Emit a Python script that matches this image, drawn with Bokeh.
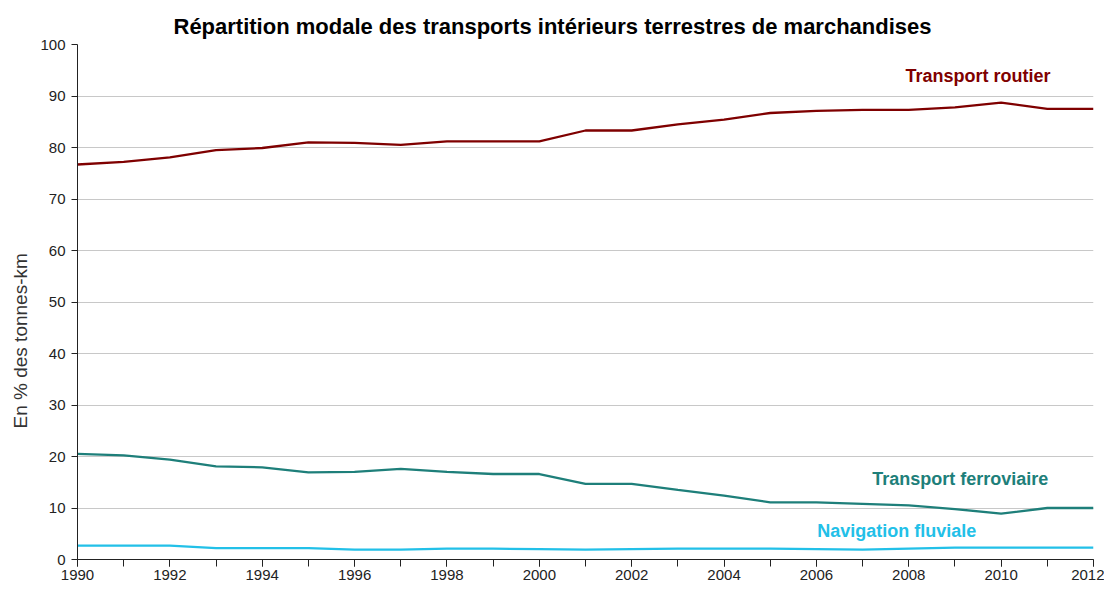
from bokeh.plotting import figure
from bokeh.models import SingleIntervalTicker, Range1d, Label, Title
from bokeh.embed import file_html
from bokeh.resources import INLINE

years = list(range(1990, 2013))
routier = [76.7, 77.2, 78.1, 79.5, 79.9, 81.0, 80.9, 80.5, 81.2, 81.2, 81.2, 83.3,
           83.3, 84.5, 85.4, 86.7, 87.1, 87.3, 87.3, 87.8, 88.7, 87.5, 87.5]
ferroviaire = [20.5, 20.2, 19.4, 18.1, 17.9, 16.9, 17.0, 17.6, 17.0, 16.6, 16.6, 14.7,
               14.7, 13.5, 12.4, 11.1, 11.1, 10.8, 10.5, 9.8, 8.9, 10.0, 10.0]
fluviale = [2.7, 2.7, 2.7, 2.2, 2.2, 2.2, 1.9, 1.9, 2.1, 2.1, 2.0, 1.9,
            2.0, 2.1, 2.1, 2.1, 2.0, 1.9, 2.1, 2.3, 2.3, 2.3, 2.3]

title_text = "Répartition modale des transports intérieurs terrestres de marchandises"
y_label = "En % des tonnes-km"
series_names = ["Transport routier", "Transport ferroviaire", "Navigation fluviale"]
colors = ["#7F0000", "#1E7F7A", "#22C0E8"]

p = figure(width=1104, height=586, output_backend="svg", toolbar_location=None,
           x_range=Range1d(1990, 2012), y_range=Range1d(0, 100),
           min_border_left=77, min_border_right=11, min_border_top=44, min_border_bottom=27)
p.outline_line_color = None
p.background_fill_color = "white"
p.border_fill_color = "white"

p.title.text = title_text
p.title.align = "left"
p.title.offset = 96
p.title.text_font = "Liberation Sans"
p.title.text_font_size = "22px"
p.title.text_font_style = "bold"
p.title.text_color = "black"
p.title.standoff = 11

for ys, c in zip([routier, ferroviaire, fluviale], colors):
    p.line(years, ys, line_color=c, line_width=2.3)

# x axis
p.xaxis.ticker = SingleIntervalTicker(interval=2, num_minor_ticks=2)
p.xaxis.major_tick_in = 0
p.xaxis.major_tick_out = 7
p.xaxis.minor_tick_in = 0
p.xaxis.minor_tick_out = 7
p.xaxis.axis_line_color = "#222222"
p.xaxis.major_tick_line_color = "#222222"
p.xaxis.minor_tick_line_color = "#222222"
p.xaxis.major_label_text_font = "Liberation Sans"
p.xaxis.major_label_text_font_size = "15px"
p.xaxis.major_label_text_color = "#222222"
p.xaxis.major_label_standoff = 3

# y axis
p.yaxis.ticker = SingleIntervalTicker(interval=10, num_minor_ticks=0)
p.yaxis.major_tick_in = 0
p.yaxis.major_tick_out = 6
p.yaxis.minor_tick_line_color = None
p.yaxis.axis_line_color = "#222222"
p.yaxis.major_tick_line_color = "#222222"
p.yaxis.major_label_text_font = "Liberation Sans"
p.yaxis.major_label_text_font_size = "15px"
p.yaxis.major_label_text_color = "#222222"
p.yaxis.major_label_standoff = 6

p.xgrid.grid_line_color = None
p.ygrid.grid_line_color = "#C8C8C8"
p.ygrid.grid_line_width = 1

# y-axis title, placed like the original (slightly below the frame centre)
ytitle = Title(text=y_label, align="left", offset=131, text_font="Liberation Sans",
               text_font_size="19px", text_font_style="normal", text_color="#333333",
               standoff=13)
p.add_layout(ytitle, "left")

label_pos = [(2007.93, 93.8), (2007.21, 15.7), (2006.02, 5.6)]
for name, c, (lx, ly) in zip(series_names, colors, label_pos):
    p.add_layout(Label(x=lx, y=ly, text=name, text_color=c, text_font="Liberation Sans",
                       text_font_size="18px", text_font_style="bold",
                       text_baseline="middle", text_align="left"))

open("out.html", "w").write(file_html(p, INLINE))
